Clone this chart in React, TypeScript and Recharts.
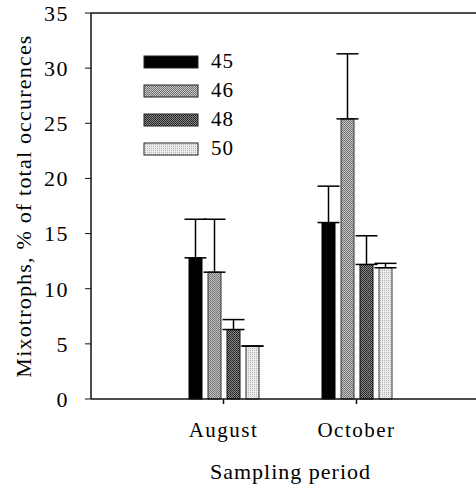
import React from 'react';
import { BarChart, Bar, XAxis, YAxis, ErrorBar, ReferenceLine, Label } from 'recharts';

const categories = ['August', 'October'];
const series45 = [12.8, 16.0];
const series46 = [11.5, 25.4];
const series48 = [6.3, 12.2];
const series50 = [4.8, 11.9];
// upper error only (lower, upper)
const err45 = [3.5, 3.3];
const err46 = [4.8, 5.9];
const err48 = [0.9, 2.6];
const err50 = [0, 0.4];
const yTicks = [0, 5, 10, 15, 20, 25, 30, 35];

const seriesNames = ['45', '46', '48', '50'];
const fills = ['#000000', 'url(#p46)', 'url(#p48)', 'url(#p50)'];

const data = categories.map((c, i) => ({
  period: c,
  s45: series45[i],
  s46: series46[i],
  s48: series48[i],
  s50: series50[i],
  e45: [0, err45[i]],
  e46: [0, err46[i]],
  e48: [0, err48[i]],
  e50: [0, err50[i]],
}));

const FONT = 'Liberation Serif, Times New Roman, serif';
const txt = { fontFamily: FONT, fill: '#000' };

const LegendBox = () => (
  <div style={{ position: 'absolute', left: 143, top: 47, fontFamily: FONT }}>
    {seriesNames.map((n, i) => (
      <div key={n} style={{ display: 'flex', alignItems: 'center', height: 29 }}>
        <svg width={56} height={14} style={{ display: 'block' }}>
          <rect x={1} y={1} width={54} height={12} fill={fills[i]} stroke="#222" strokeWidth={1} />
        </svg>
        <span style={{ marginLeft: 12, fontSize: 21, letterSpacing: 1, color: '#000' }}>{n}</span>
      </div>
    ))}
  </div>
);

export default function App() {
  return (
    <div style={{ position: 'absolute', left: 0, top: 0, width: 476, height: 491, overflow: 'hidden', background: '#fff' }}>
      <BarChart
        width={490}
        height={491}
        data={data}
        margin={{ top: 13, right: 0, bottom: 0, left: 0 }}
        barSize={13}
        barGap={6}
      >
        <defs>
          <pattern id="p46" width="2" height="2" patternUnits="userSpaceOnUse">
            <rect width="2" height="2" fill="#c4c4c4" />
            <rect width="1" height="1" fill="#6e6e6e" />
            <rect x="1" y="1" width="1" height="1" fill="#7a7a7a" />
          </pattern>
          <pattern id="p48" width="2" height="2" patternUnits="userSpaceOnUse">
            <rect width="2" height="2" fill="#8a8a8a" />
            <rect width="1" height="1" fill="#1e1e1e" />
            <rect x="1" y="1" width="1" height="1" fill="#2a2a2a" />
          </pattern>
          <pattern id="p50" width="2" height="2" patternUnits="userSpaceOnUse">
            <rect width="2" height="2" fill="#ececec" />
            <rect width="1" height="1" fill="#b4b4b4" />
          </pattern>
        </defs>
        <XAxis
          dataKey="period"
          height={92}
          padding={{ left: 66, right: 67 }}
          axisLine={{ stroke: '#111', strokeWidth: 1.5 }}
          tickLine={{ stroke: '#111', strokeWidth: 1.5 }}
          tickSize={5}
          tickMargin={18}
          tick={{ ...txt, fontSize: 21, letterSpacing: 1.5 }}
        >
          <Label
            value="Sampling period"
            position="insideBottom"
            offset={12}
            style={{ ...txt, fontSize: 22, letterSpacing: 1 }}
          />
        </XAxis>
        <YAxis
          width={91}
          domain={[0, 35]}
          ticks={yTicks}
          interval={0}
          axisLine={{ stroke: '#111', strokeWidth: 1.5 }}
          tickLine={{ stroke: '#111', strokeWidth: 1 }}
          tickSize={6}
          tickMargin={16}
          tick={{ ...txt, fontSize: 22, letterSpacing: 1.5 }}
        >
          <Label
            value="Mixotrophs, % of total occurences"
            angle={-90}
            position="insideLeft"
            offset={23}
            style={{ ...txt, fontSize: 22, letterSpacing: 1.2, textAnchor: 'middle' }}
          />
        </YAxis>
        <ReferenceLine y={35} stroke="#111" strokeWidth={1.5} />
        <Bar dataKey="s45" name="45" fill={fills[0]} stroke="#000" strokeWidth={1} isAnimationActive={false}>
          <ErrorBar dataKey="e45" width={11} stroke="#000" strokeWidth={1.5} direction="y" />
        </Bar>
        <Bar dataKey="s46" name="46" fill={fills[1]} stroke="#333" strokeWidth={1} isAnimationActive={false}>
          <ErrorBar dataKey="e46" width={11} stroke="#000" strokeWidth={1.5} direction="y" />
        </Bar>
        <Bar dataKey="s48" name="48" fill={fills[2]} stroke="#111" strokeWidth={1} isAnimationActive={false}>
          <ErrorBar dataKey="e48" width={11} stroke="#000" strokeWidth={1.5} direction="y" />
        </Bar>
        <Bar dataKey="s50" name="50" fill={fills[3]} stroke="#333" strokeWidth={1} isAnimationActive={false}>
          <ErrorBar dataKey="e50" width={11} stroke="#000" strokeWidth={1.5} direction="y" />
        </Bar>
      </BarChart>
      <LegendBox />
    </div>
  );
}
